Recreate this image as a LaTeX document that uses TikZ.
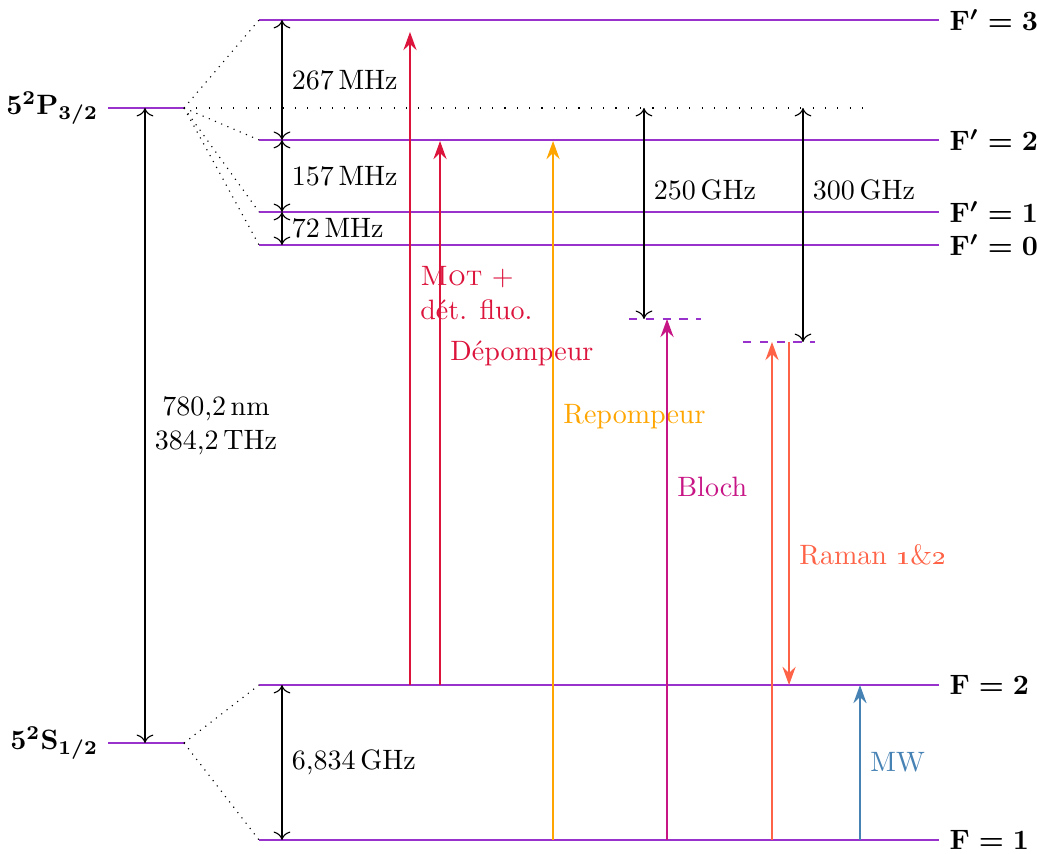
\documentclass[tikz,border=0pt]{standalone}
\usetikzlibrary{arrows.meta}
\definecolor{violetniv}{RGB}{153,50,204}
\definecolor{rougemot}{RGB}{220,20,60}
\definecolor{orangerep}{RGB}{255,165,0}
\definecolor{violetbloch}{RGB}{199,21,133}
\definecolor{rougeraman}{RGB}{255,99,71}
\definecolor{bleumw}{RGB}{70,130,180}
\newcommand\gras[1]{{\boldmath$#1$}}
\tikzset{
  niveau/.style={violetniv, line width=0.9pt},
  virtuel/.style={violetniv, dashed, line width=0.6pt},
  liaison/.style={dotted},
  mesure/.style={line width=0.4pt, {Computer Modern Rightarrow[width=6pt,length=3pt]}-{Computer Modern Rightarrow[width=6pt,length=3pt]}},
  laser/.style={line width=0.75pt, -{Stealth[length=6.5pt,width=4.7pt,inset=2.2pt]}},
}
\begin{document}
\begin{tikzpicture}
\useasboundingbox (0,0) rectangle (13.011,10.715);
% niveaux fins
\coordinate (P1) at (1.355,9.360);
\coordinate (P2) at (2.309,9.360);
\coordinate (S1) at (1.355,1.393);
\coordinate (S2) at (2.309,1.393);
\draw[niveau] (P1) -- (P2);
\draw[niveau] (S1) -- (S2);
\node[left] (nP) at (P1) {\gras{5^2\mathrm{P}_{3/2}}};
\node[left] (nS) at (S1) {\gras{5^2\mathrm{S}_{1/2}}};
% niveaux hyperfins
\coordinate (E3a) at (3.250,10.464); \coordinate (E3b) at (11.782,10.464);
\coordinate (E2a) at (3.250,8.959);  \coordinate (E2b) at (11.782,8.959);
\coordinate (E1a) at (3.250,8.055);  \coordinate (E1b) at (11.782,8.055);
\coordinate (E0a) at (3.250,7.641);  \coordinate (E0b) at (11.782,7.641);
\coordinate (G2a) at (3.250,2.120);  \coordinate (G2b) at (11.782,2.120);
\coordinate (G1a) at (3.250,0.176);  \coordinate (G1b) at (11.782,0.176);
\draw[niveau] (E3a) -- (E3b) node[right, black] (nE3) {\gras{\mathrm{F}'=3}};
\draw[niveau] (E2a) -- (E2b) node[right, black] (nE2) {\gras{\mathrm{F}'=2}};
\draw[niveau] (E1a) -- (E1b) node[right, black] (nE1) {\gras{\mathrm{F}'=1}};
\draw[niveau] (E0a) -- (E0b) node[right, black] (nE0) {\gras{\mathrm{F}'=0}};
\draw[niveau] (G2a) -- (G2b) node[right, black] (nG2) {\gras{\mathrm{F}=2}};
\draw[niveau] (G1a) -- (G1b) node[right, black] (nG1) {\gras{\mathrm{F}=1}};
% liaisons
\draw[liaison] (P2) -- (E3a);
\draw[liaison] (P2) -- (E2a);
\draw[liaison] (P2) -- (E1a);
\draw[liaison] (P2) -- (E0a);
\draw[liaison] (S2) -- (G2a);
\draw[liaison] (S2) -- (G1a);
\coordinate (Pfin) at (10.853,9.360);
\draw[loosely dotted] (P2) -- (Pfin);
% niveaux virtuels
\coordinate (V1a) at (7.892,6.713); \coordinate (V1b) at (8.795,6.713);
\coordinate (V2a) at (9.322,6.424); \coordinate (V2b) at (10.226,6.424);
\draw[virtuel] (V1a) -- (V1b);
\draw[virtuel] (V2a) -- (V2b);
% ecarts
\coordinate (Pm) at (1.819,9.360); \coordinate (Sm) at (1.819,1.393);
\draw[mesure] (Pm) -- (Sm) node[midway, right, align=center] (nD2) {780,2\,nm\\384,2\,THz};
\coordinate (h3) at (3.538,10.464); \coordinate (h2) at (3.538,8.959);
\coordinate (h1) at (3.538,8.055);  \coordinate (h0) at (3.538,7.641);
\coordinate (g2) at (3.538,2.120);  \coordinate (g1) at (3.538,0.176);
\draw[mesure] (h3) -- (h2) node[midway, right] (n267) {267\,MHz};
\draw[mesure] (h2) -- (h1) node[midway, right] (n157) {157\,MHz};
\draw[mesure] (h1) -- (h0) node[midway, right] (n72) {72\,MHz};
\draw[mesure] (g2) -- (g1) node[midway, right] (n6834) {6,834\,GHz};
\coordinate (d1a) at (8.080,9.360);  \coordinate (d1b) at (8.080,6.713);
\coordinate (d2a) at (10.075,9.360); \coordinate (d2b) at (10.075,6.424);
\draw[mesure] (d1a) -- (d1b) node[pos=0.39, right] (n250) {250\,GHz};
\draw[mesure] (d2a) -- (d2b) node[pos=0.35, right] (n300) {300\,GHz};
% lasers
\coordinate (mot0) at (5.144,2.120);  \coordinate (mot1) at (5.144,10.314);
\coordinate (dep0) at (5.521,2.120);  \coordinate (dep1) at (5.521,8.946);
\coordinate (rep0) at (6.939,0.176);  \coordinate (rep1) at (6.939,8.946);
\coordinate (blo0) at (8.369,0.176);  \coordinate (blo1) at (8.369,6.713);
\coordinate (ram0) at (9.686,0.176);  \coordinate (ram1) at (9.686,6.424);
\coordinate (ram2) at (9.900,6.424);  \coordinate (ram3) at (9.900,2.120);
\coordinate (mw0) at (10.790,0.176);  \coordinate (mw1) at (10.790,2.120);
\draw[laser, rougemot] (mot0) -- (mot1) node[pos=0.6, right, align=left] (nMot) {\textsc{Mot} +\\dét. fluo.};
\draw[laser, rougemot] (dep0) -- (dep1) node[pos=0.61, right] (nDep) {Dépompeur};
\draw[laser, orangerep] (rep0) -- (rep1) node[pos=0.605, right] (nRep) {Repompeur};
\draw[laser, violetbloch] (blo0) -- (blo1) node[pos=0.678, right] (nBlo) {Bloch};
\draw[laser, rougeraman] (ram0) -- (ram1);
\draw[laser, rougeraman] (ram2) -- (ram3) node[pos=0.62, right] (nRam) {Raman \oldstylenums{1}\&\oldstylenums{2}};
\draw[laser, bleumw] (mw0) -- (mw1) node[midway, right] (nMW) {MW};
\end{tikzpicture}
\end{document}
